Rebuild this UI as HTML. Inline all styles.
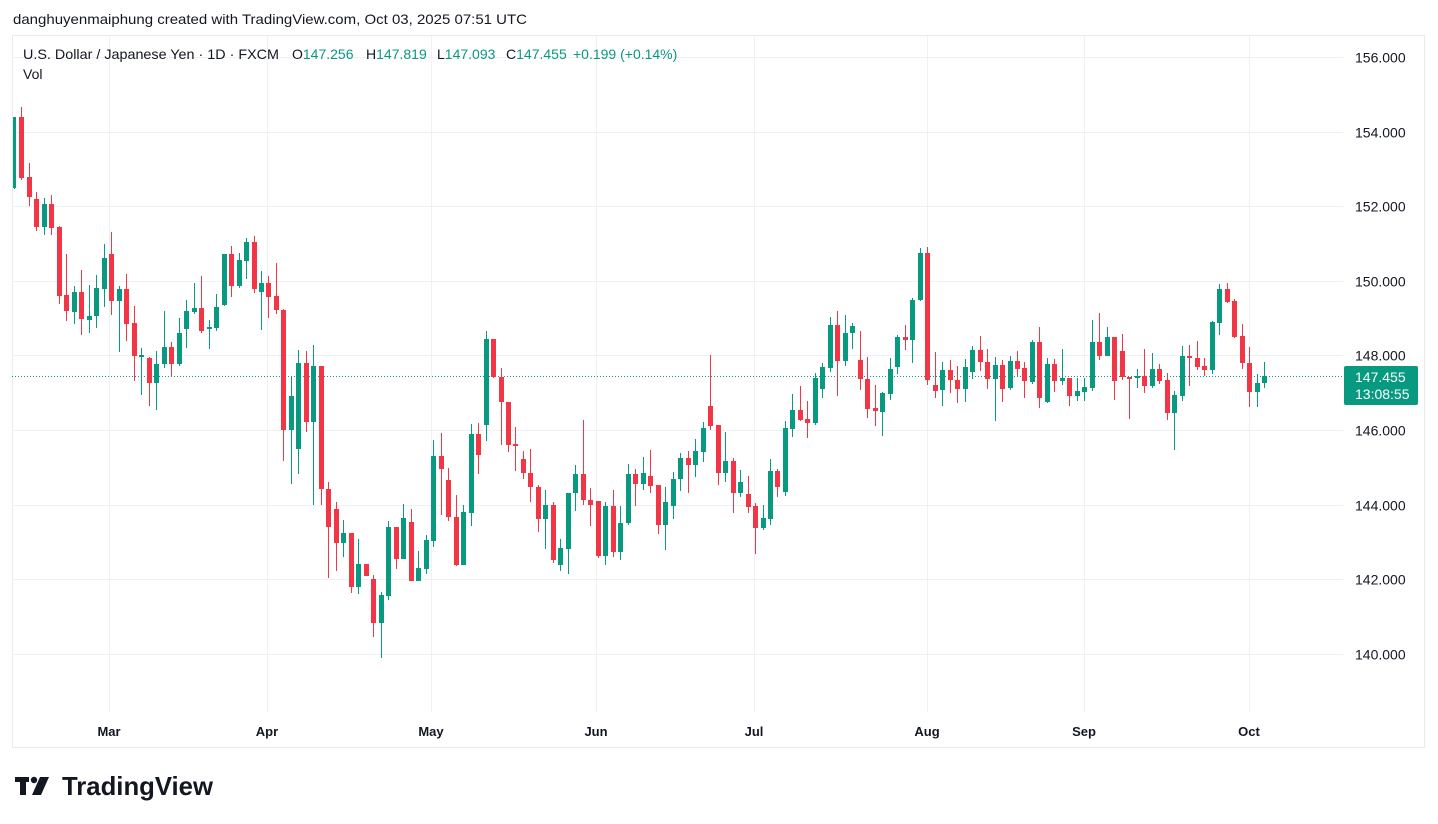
<!DOCTYPE html>
<html><head><meta charset="utf-8">
<style>
html,body{margin:0;padding:0;background:#fff;width:1438px;height:824px;overflow:hidden;font-family:"Liberation Sans","DejaVu Sans",sans-serif;}
svg{position:absolute;left:0;top:0;}
</style></head>
<body>
<svg id="s" width="1438" height="824" xmlns="http://www.w3.org/2000/svg">
<rect x="0" y="0" width="1438" height="824" fill="#fff"/>
<rect x="12.5" y="35.5" width="1412" height="712" fill="none" stroke="#e8eaee" stroke-width="1"/>
<g id="grid" stroke="#f0f1f4" stroke-width="1"></g>
<line x1="12" y1="376.5" x2="1343" y2="376.5" stroke="#089981" stroke-width="1" stroke-dasharray="1,2"/>
<g id="candles"></g>
<g font-size="14" fill="#131722" id="plabels"></g>
<rect x="1344" y="366" width="74" height="39" rx="2" fill="#089981"/>
<text x="1355" y="382" font-size="14" fill="#fff">147.455</text>
<text x="1355" y="399" font-size="14" fill="#fff">13:08:55</text>
<g font-size="13" fill="#131722" font-weight="bold" text-anchor="middle" id="tlabels"></g>
<text x="13" y="24" font-size="14" fill="#131722" textLength="514" lengthAdjust="spacingAndGlyphs">danghuyenmaiphung created with TradingView.com, Oct 03, 2025 07:51 UTC</text>
<g font-size="14" fill="#131722">
<text x="23" y="59" textLength="256" lengthAdjust="spacingAndGlyphs">U.S. Dollar / Japanese Yen · 1D · FXCM</text>
<text x="292" y="59">O<tspan fill="#089981">147.256</tspan></text>
<text x="366" y="59">H<tspan fill="#089981">147.819</tspan></text>
<text x="437" y="59">L<tspan fill="#089981">147.093</tspan></text>
<text x="506" y="59">C<tspan fill="#089981">147.455</tspan></text>
<text x="573" y="59" fill="#089981">+0.199 (+0.14%)</text>
<text x="23" y="79">Vol</text>
</g>
<g fill="#131722">
<rect x="15" y="777" width="14" height="5"/>
<rect x="20" y="777" width="6" height="18"/>
<circle cx="34" cy="780" r="3.2"/>
<polygon points="40,777 49,777 41,795 32,795"/>
</g>
<text x="62" y="795" font-size="26" font-weight="bold" fill="#131722" textLength="151" lengthAdjust="spacingAndGlyphs">TradingView</text>
</svg>
<script>
var NS="http://www.w3.org/2000/svg";
function el(t,a,p){var e=document.createElementNS(NS,t);for(var k in a)e.setAttribute(k,a[k]);p.appendChild(e);return e;}
var grid=document.getElementById('grid');
var pl=document.getElementById('plabels');
for(var p=156;p>=140;p-=2){var y=57+(156-p)*37.31;y=Math.round(y)+0.5;
 el('line',{x1:12,y1:y,x2:1343,y2:y},grid);
 var t=el('text',{x:1355,y:y+5},pl);t.textContent=p.toFixed(3);}
var months=[["Mar",109],["Apr",267],["May",431],["Jun",596],["Jul",754],["Aug",927],["Sep",1084],["Oct",1249]];
var tl=document.getElementById('tlabels');
months.forEach(function(m){el('line',{x1:m[1]+0.5,y1:36,x2:m[1]+0.5,y2:712},grid);var t=el('text',{x:m[1],y:736},tl);t.textContent=m[0];});
var D=[
['g',188,117,117,189],['r',117,178,107,180],['r',177,197,163,206],['r',199,227,192,231],['g',227,204,198,235],
['r',204,228,195,235],['r',227,296,226,304],['r',295,311,254,321],['g',312,292,286,324],['r',292,319,270,335],
['g',320,316,285,333],['g',316,288,275,328],['g',289,258,244,307],['r',254,301,232,315],['g',301,289,286,352],
['r',289,324,274,341],['r',323,356,306,381],['g',356,355,348,395],['r',358,383,357,406],['g',383,364,351,410],
['g',364,347,311,368],['r',347,364,342,377],['g',364,333,318,366],['g',329,311,300,348],['g',312,308,283,314],
['r',308,331,276,333],['g',329,327,320,349],['g',328,307,294,331],['g',305,254,254,306],['r',254,286,246,297],
['g',286,260,253,288],['g',261,242,238,279],['r',242,289,236,293],['g',292,283,271,330],['r',283,297,276,318],
['r',296,310,263,314],['r',310,430,309,461],['g',430,396,376,484],['g',449,363,350,474],['r',363,422,351,432],
['g',422,366,345,505],['r',366,489,366,505],['r',489,527,482,578],['r',509,543,502,571],['g',543,533,520,557],
['r',533,587,533,593],['g',587,564,539,594],['r',564,576,564,576],['r',579,623,575,637],['g',623,595,592,658],
['g',596,527,521,600],['r',527,559,527,569],['g',559,518,504,559],['r',522,581,509,581],['g',581,568,551,581],
['g',569,540,535,574],['g',541,456,440,547],['r',456,469,433,515],['r',480,517,468,521],['r',517,565,495,566],
['g',565,512,505,565],['g',513,434,424,526],['r',434,455,423,474],['g',425,339,331,441],['r',339,377,339,378],
['r',377,402,368,445],['r',402,445,402,452],['r',444,445,427,471],['r',459,473,451,479],['r',473,487,449,502],
['r',487,519,485,532],['g',519,505,490,549],['r',505,560,502,563],['g',565,548,539,571],['g',549,493,493,574],
['g',493,474,465,511],['r',474,500,420,505],['r',500,505,488,526],['r',501,556,501,558],['g',556,506,502,565],
['r',506,552,490,557],['g',552,523,506,560],['g',523,474,464,525],['r',474,484,469,506],['g',484,473,457,490],
['r',476,486,450,493],['r',485,525,485,534],['g',525,502,487,550],['g',506,479,472,519],['g',479,458,453,491],
['r',458,465,451,493],['g',465,451,439,477],['g',452,428,422,462],['r',406,426,355,430],['r',425,473,425,485],
['g',473,461,432,482],['r',461,493,458,513],['g',493,482,470,497],['r',494,507,476,513],['r',506,528,503,554],
['g',528,518,505,530],['g',519,471,459,525],['r',471,487,469,497],['g',492,428,421,496],['g',429,410,394,437],
['r',410,420,386,421],['r',419,423,401,438],['g',423,378,373,425],['g',389,367,363,398],['g',368,325,317,372],
['r',325,361,311,396],['g',361,333,315,366],['g',333,326,323,349],['r',360,379,331,390],['r',379,409,357,418],
['r',408,411,385,426],['g',412,393,392,436],['g',394,369,358,400],['g',367,337,335,374],['r',337,340,325,350],
['g',340,300,298,363],['g',300,253,248,301],['r',253,380,247,385],['r',385,391,352,398],['g',390,370,362,406],
['r',370,380,360,393],['r',380,389,366,403],['g',389,367,359,402],['g',372,350,346,379],['r',350,362,336,371],
['r',362,379,349,389],['g',379,365,357,421],['r',365,389,360,402],['g',388,361,356,390],['r',361,369,351,376],
['r',368,381,362,398],['g',382,342,340,384],['r',342,398,327,408],['g',402,364,358,403],['r',364,381,359,392],
['g',381,378,349,385],['r',378,396,378,406],['g',396,391,378,401],['g',392,387,378,401],['g',388,342,320,391],
['r',342,356,313,360],['g',356,337,327,356],['r',337,381,337,400],['r',351,377,334,380],['r',377,378,377,419],
['g',378,376,369,388],['r',376,386,349,393],['g',386,369,353,388],['r',369,381,364,384],['r',380,413,373,420],
['g',413,395,391,450],['g',396,356,346,401],['r',356,358,345,386],['r',358,367,341,370],['r',366,370,358,376],
['g',370,322,321,374],['g',323,289,284,335],['r',289,302,283,303],['r',301,337,299,338],['r',336,363,324,369],
['r',363,392,347,407],['g',392,383,374,407],['g',383,376,362,388]
];
var cg=document.getElementById('candles');
var step=(1264-14)/167;
D.forEach(function(d,i){
 var x=Math.round(14+i*step);var col=d[0]=='g'?'#089981':'#f23645';
 var top=Math.min(d[1],d[2]),bot=Math.max(d[1],d[2]);if(bot-top<2)bot=top+2;
 var hi=Math.min(d[3],top),lo=Math.max(d[4],bot);
 el('rect',{x:x,y:hi,width:1,height:lo-hi,fill:col},cg);
 var w=i==0?3:5;var bx=i==0?x-1:x-2;
 el('rect',{x:bx,y:top,width:w,height:bot-top,fill:col},cg);
});
</script>
</body></html>
